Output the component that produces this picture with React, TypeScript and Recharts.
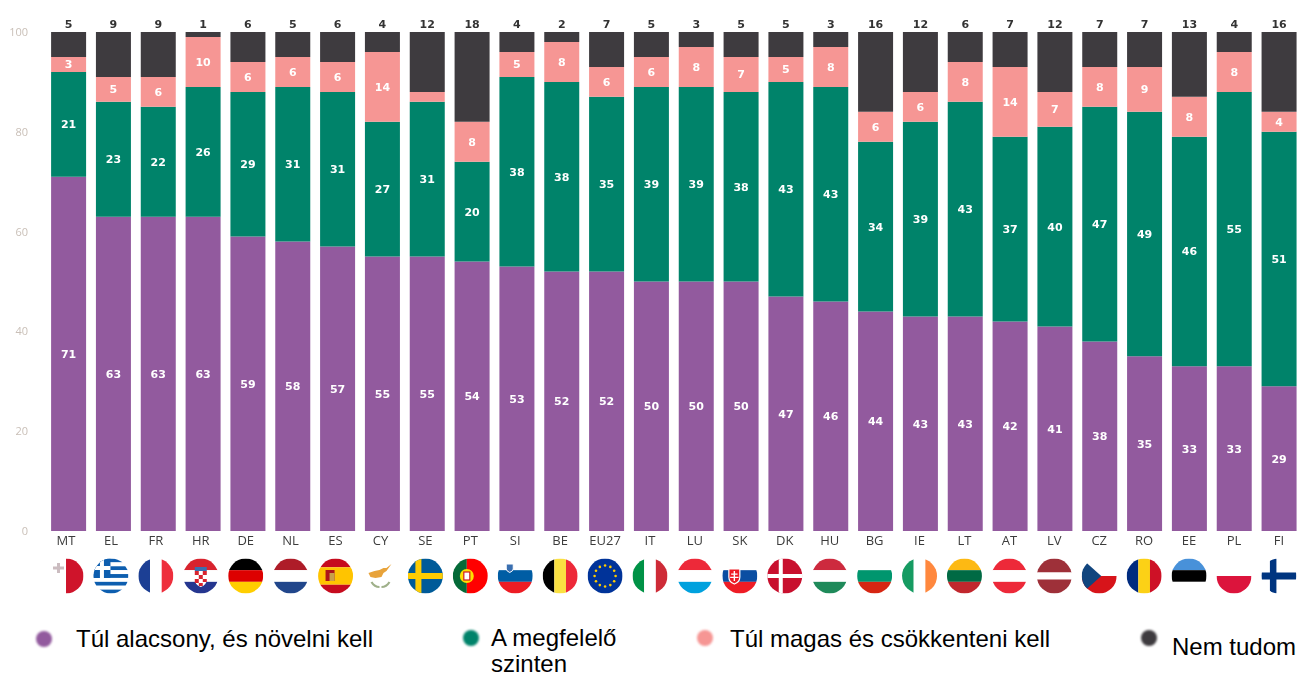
import { BarChart, Bar, XAxis, YAxis, Legend, LabelList } from "recharts"

const countries = ["MT", "EL", "FR", "HR", "DE", "NL", "ES", "CY", "SE", "PT", "SI", "BE", "EU27", "IT", "LU", "SK", "DK", "HU", "BG", "IE", "LT", "AT", "LV", "CZ", "RO", "EE", "PL", "FI"]
const tooLow = [71, 63, 63, 63, 59, 58, 57, 55, 55, 54, 53, 52, 52, 50, 50, 50, 47, 46, 44, 43, 43, 42, 41, 38, 35, 33, 33, 29]
const adequate = [21, 23, 22, 26, 29, 31, 31, 27, 31, 20, 38, 38, 35, 39, 39, 38, 43, 43, 34, 39, 43, 37, 40, 47, 49, 46, 55, 51]
const tooHigh = [3, 5, 6, 10, 6, 6, 6, 14, 2, 8, 5, 8, 6, 6, 8, 7, 5, 8, 6, 6, 8, 14, 7, 8, 9, 8, 8, 4]
const dontKnow = [5, 9, 9, 1, 6, 5, 6, 4, 12, 18, 4, 2, 7, 5, 3, 5, 5, 3, 16, 12, 6, 7, 12, 7, 7, 13, 4, 16]
const yTicks = [0, 20, 40, 60, 80, 100]

const seriesNames = ["Túl alacsony, és növelni kell", "A megfelelő szinten", "Túl magas és csökkenteni kell", "Nem tudom"]

const PURPLE = "#925a9e"
const GREEN = "#00836a"
const PINK = "#f69694"
const DARK = "#3e3b3f"

const data = countries.map((name, i) => ({
  name,
  low: tooLow[i],
  ok: adequate[i],
  high: tooHigh[i],
  dk: dontKnow[i],
}))

const R = 17.5

// simple stripe flags, first letter is the direction
const stripes: Record<string, [string, string[], number[]?]> = {
  MT: ["v", ["#ffffff", "#cf142b"]],
  FR: ["v", ["#1c3f94", "#ffffff", "#ee2e3c"]],
  HR: ["h", ["#d8232e", "#ffffff", "#25368f"]],
  DE: ["h", ["#000000", "#dd0000", "#ffce00"]],
  NL: ["h", ["#ae1c28", "#ffffff", "#21468b"]],
  ES: ["h", ["#c60b1e", "#ffc400", "#c60b1e"], [1, 2, 1]],
  SE: ["h", ["#005b99"]],
  PT: ["v", ["#046a38", "#ff0000"], [2, 3]],
  SI: ["h", ["#ffffff", "#005da4", "#ed1c24"]],
  BE: ["v", ["#000000", "#fae042", "#ed2939"]],
  EU27: ["h", ["#003399"]],
  IT: ["v", ["#009246", "#ffffff", "#ce2b37"]],
  LU: ["h", ["#ed2939", "#ffffff", "#00a1de"]],
  SK: ["h", ["#ffffff", "#0b4ea2", "#ee1c25"]],
  DK: ["h", ["#c8102e"]],
  HU: ["h", ["#cd2a3e", "#ffffff", "#1f8a5a"]],
  BG: ["h", ["#ffffff", "#00966e", "#d62612"]],
  IE: ["v", ["#169b62", "#ffffff", "#ff883e"]],
  LT: ["h", ["#fdb913", "#006a44", "#c1272d"]],
  AT: ["h", ["#ed2939", "#ffffff", "#ed2939"]],
  LV: ["h", ["#9e3039", "#ffffff", "#9e3039"], [2, 1, 2]],
  CZ: ["h", ["#ffffff", "#d7141a"]],
  RO: ["v", ["#002b7f", "#fcd116", "#ce1126"]],
  EE: ["h", ["#4891d9", "#000000", "#ffffff"]],
  PL: ["h", ["#ffffff", "#dc143c"]],
  FI: ["h", ["#ffffff"]],
  EL: ["h", ["#0d5eaf", "#ffffff", "#0d5eaf", "#ffffff", "#0d5eaf", "#ffffff", "#0d5eaf", "#ffffff", "#0d5eaf"]],
  CY: ["h", ["#ffffff"]],
}

const euStars = [0, 30, 60, 90, 120, 150, 180, 210, 240, 270, 300, 330]

const flagExtras = (code: string) => {
  switch (code) {
    case "MT":
      return <path d="M-13-9.500h4v-3.500h3v3.500h4v3h-4v3.500h-3v-3.500h-4z" fill="#cbbcc0" />
    case "EL":
      return (
        <g>
          <rect x={-R} y={-R} width={17} height={19.5} fill="#0d5eaf" />
          <rect x={-R} y={-10} width={17} height={4} fill="#fff" />
          <rect x={-11} y={-R} width={4} height={19.5} fill="#fff" />
        </g>
      )
    case "HR":
      return (
        <g>
          <rect x={-6} y={-9} width={12} height={4} fill="#3a6fb0" />
          <path d="M-6-5h12v8q0 6-6 8q-6-2-6-8z" fill="#fff" />
          <path d="M-6-5h4v4h-4zM2-5h4v4h-4zM-2-1h4v4h-4zM-6 3h4v4h-4zM2 3h4v3h-4zM-2 7h4v3h-4z" fill="#d8232e" />
        </g>
      )
    case "ES":
      return (
        <g>
          <rect x={-10} y={-6} width={9} height={11} fill="#ad1519" />
          <rect x={-6} y={-3} width={5} height={8} fill="#c8a04a" />
        </g>
      )
    case "CY":
      return (
        <g>
          <path d="M-12-3l6-2l5-1l4-2l3 0l5-4l-5 7l-3 2l-2 4l-6 1l-5-1z" fill="#e8a33a" />
          <path d="M-9 6q3 5 8 5M9 6q-3 5-8 5" stroke="#9fb08a" strokeWidth={2.2} fill="none" />
        </g>
      )
    case "SE":
      return (
        <g>
          <rect x={-10} y={-R} width={6} height={R * 2} fill="#fecc02" />
          <rect x={-R} y={-3} width={R * 2} height={6} fill="#fecc02" />
        </g>
      )
    case "PT":
      return (
        <g>
          <circle cx={-3.500} r={7} fill="#ffe000" />
          <rect x={-6.500} y={-4} width={6} height={8} fill="#fff" stroke="#d01c1f" strokeWidth={1.2} />
        </g>
      )
    case "SI":
      return <path d="M-9-8h7v5q0 2-3.500 3.500q-3.500-1.500-3.500-3.500z" fill="#3a6fb0" stroke="#fff" strokeWidth={1} transform="translate(0 -4)" />
    case "EU27":
      return (
        <g fill="#ffcc00">
          {euStars.map((a) => (
            <circle key={a} cx={10.500 * Math.sin((a * Math.PI) / 180)} cy={-10.500 * Math.cos((a * Math.PI) / 180)} r={1.300} />
          ))}
        </g>
      )
    case "SK":
      return (
        <g>
          <path d="M-11-7h11v8q0 5-5.500 7q-5.500-2-5.500-7z" fill="#ee1c25" stroke="#fff" strokeWidth={1.200} />
          <path d="M-6.200-5h1.400v2.500h2.500v1.300h-2.500v2h3.500v1.300h-3.500v3h-1.400v-3h-3.500v-1.300h3.500v-2h-2.500v-1.300h2.500z" fill="#fff" />
        </g>
      )
    case "DK":
      return (
        <g fill="#fff">
          <rect x={-6} y={-R} width={4} height={R * 2} />
          <rect x={-R} y={-2} width={R * 2} height={4} />
        </g>
      )
    case "CZ":
      return <path d={`M${-R}-${R}L2 0L${-R} ${R}z`} fill="#11457e" />
    case "FI":
      return (
        <g fill="#003580">
          <rect x={-9} y={-R} width={6.500} height={R * 2} />
          <rect x={-R} y={-3.500} width={R * 2} height={7} />
        </g>
      )
    default:
      return null
  }
}

const Flag = ({ code, x, y }: { code: string; x: number; y: number }) => {
  const [dir, colors, weights] = stripes[code]
  const w = weights ?? colors.map(() => 1)
  const total = w.reduce((a, b) => a + b, 0)
  let pos = -R
  return (
    <g transform={`translate(${x} ${y})`}>
      <clipPath id={`flag-${code}`}>
        <circle r={R} />
      </clipPath>
      <g clipPath={`url(#flag-${code})`}>
        {colors.map((c, i) => {
          const size = (w[i] / total) * 2 * R
          const rect =
            dir === "h" ? (
              <rect key={i} x={-R} y={pos} width={2 * R} height={size} fill={c} />
            ) : (
              <rect key={i} x={pos} y={-R} width={size} height={2 * R} fill={c} />
            )
          pos += size
          return rect
        })}
        {flagExtras(code)}
      </g>
    </g>
  )
}

const CountryTick = ({ x, y, payload, index }: any) => {
  // labels and flags drift a little against the bars in the original
  const tx = x - 2.5 + index * 0.09
  return (
    <g>
      <text x={tx} y={y + 12} textAnchor="middle" fontFamily="'Open Sans'" fontSize={13} fill="#3c3c3c">
        {payload.value}
      </text>
      <Flag code={payload.value} x={tx} y={576} />
    </g>
  )
}

const legendSpots = [
  { color: PURPLE, dotX: 44, dotY: 639, textX: 76, textY: 626, width: 360 },
  { color: GREEN, dotX: 471, dotY: 638, textX: 491, textY: 625, width: 150 },
  { color: PINK, dotX: 705, dotY: 638, textX: 730, textY: 626, width: 380 },
  { color: DARK, dotX: 1149, dotY: 638, textX: 1172, textY: 634, width: 126 },
]

const LegendContent = () => (
  <div>
    {seriesNames.map((label, i) => {
      const s = legendSpots[i]
      return (
        <div key={label}>
          <span
            style={{
              position: "absolute",
              left: s.dotX - 8,
              top: s.dotY - 8,
              width: 16,
              height: 16,
              borderRadius: "50%",
              background: s.color,
              filter: "blur(1px)",
            }}
          />
          <span
            style={{
              position: "absolute",
              left: s.textX,
              top: s.textY,
              width: s.width,
              fontFamily: "'Liberation Sans'",
              fontSize: 24,
              lineHeight: "26px",
              color: "#000",
            }}
          >
            {label}
          </span>
        </div>
      )
    })}
  </div>
)

const hideSmall = (v: any) => (v < 3 ? "" : v)

const labelStyle = { fill: "#fff", fontFamily: "'DejaVu Sans'", fontSize: 11, fontWeight: 700 }

export default function App() {
  return (
    <div style={{ position: "absolute", left: 0, top: 0, width: 1298, height: 676, overflow: "hidden", background: "#fff" }}>
      {/* the source picture is a soft upscaled image */}
      <style>{".recharts-surface{filter:blur(0.5px)}"}</style>
      <BarChart
        width={1340}
        height={676}
        data={data}
        stackOffset="none"
        margin={{ top: 32, right: 38.6, bottom: 0, left: 0 }}
      >
        <XAxis dataKey="name" height={145} interval={0} axisLine={false} tickLine={false} tickSize={0} tick={<CountryTick />} />
        <YAxis
          width={46.1}
          domain={[0, 100]}
          ticks={yTicks}
          axisLine={false}
          tickLine={false}
          tickSize={0}
          tickMargin={18}
          tick={{ fill: "#c9bfb7", fontFamily: "'Open Sans'", fontSize: 11 }}
        />
        <Legend
          content={<LegendContent />}
          wrapperStyle={{ position: "absolute", left: 0, top: 0, width: 1298, height: 0 }}
        />
        <Bar dataKey="low" name={seriesNames[0]} stackId="a" fill={PURPLE} barSize={35} isAnimationActive={false}>
          <LabelList dataKey="low" position="center" style={labelStyle} />
        </Bar>
        <Bar dataKey="ok" name={seriesNames[1]} stackId="a" fill={GREEN} barSize={35} isAnimationActive={false}>
          <LabelList dataKey="ok" position="center" style={labelStyle} />
        </Bar>
        <Bar dataKey="high" name={seriesNames[2]} stackId="a" fill={PINK} barSize={35} isAnimationActive={false}>
          <LabelList dataKey="high" position="center" formatter={hideSmall} style={labelStyle} />
        </Bar>
        <Bar dataKey="dk" name={seriesNames[3]} stackId="a" fill={DARK} barSize={35} isAnimationActive={false}>
          <LabelList dataKey="dk" position="top" offset={4} style={{ ...labelStyle, fill: "#333" }} />
        </Bar>
      </BarChart>
    </div>
  )
}
